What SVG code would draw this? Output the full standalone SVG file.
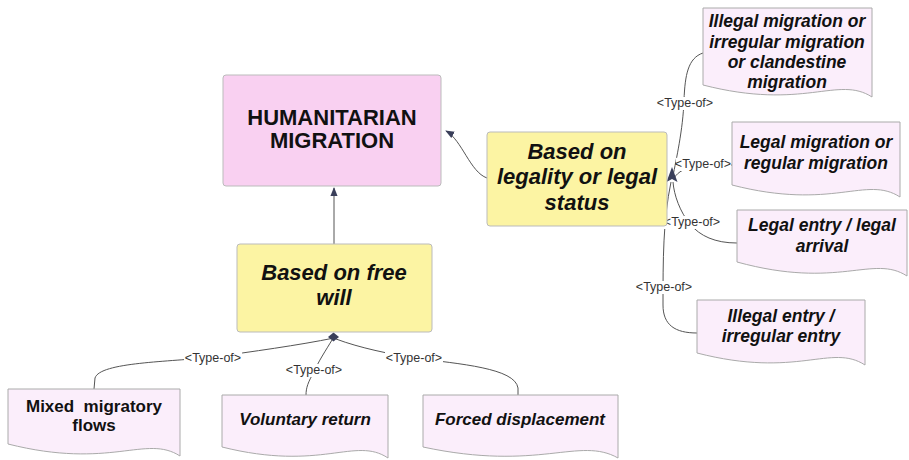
<svg xmlns="http://www.w3.org/2000/svg" width="909" height="460" viewBox="0 0 909 460">
<defs>
<style>
.t{font-family:"Liberation Sans",Arial,sans-serif;font-weight:bold;fill:#111;text-anchor:middle}
.big{font-size:22px}
.it{font-style:italic}
.md{font-size:17px}
.rs{font-size:17.5px}
.lbl{font-family:"Liberation Sans",Arial,sans-serif;font-size:12.5px;fill:#333;text-anchor:middle}
.lb{fill:#fff}
.c{fill:none;stroke:#555;stroke-width:1}
.doc{fill:#fbeefb;stroke:#aaa;stroke-width:1}
.yel{fill:#fcf4a3;stroke:#bbb;stroke-width:1}
.pink{fill:#f9d0f1;stroke:#bbb;stroke-width:1}
.head{fill:#3a3f5a}
</style>
<marker id="arr" viewBox="0 0 10 10" refX="9" refY="5" markerWidth="9" markerHeight="9" orient="auto" markerUnits="userSpaceOnUse">
<path d="M0,1 L10,5 L0,9 Z" fill="#3a3f5a"/>
</marker>
</defs>
<rect width="909" height="460" fill="#fff"/>

<g id="connectors">
<path class="c" d="M334,244 L334,188" marker-end="url(#arr)"/>
<path class="c" d="M487,178 C470,172 462,140 446,131" marker-end="url(#arr)"/>
<path class="c" d="M703,53 C688,58 685,75 684,100 C683,130 676,160 673,176"/>
<path class="c" d="M732,165 L700,166 C685,167 678,172 674,178"/>
<path class="c" d="M737,243 C715,243 700,236 690,224 C680,212 674,195 673,182"/>
<path class="c" d="M697,333 C675,333 663,325 663,305 C663,260 663,220 671,182"/>
<polygon class="head" points="672,167 677.5,182 672,179 666.5,182"/>
<path class="c" d="M334,338 C300,345 250,352 213,357 C170,362 100,362 95,378 L94,389"/>
<path class="c" d="M332,340 C326,350 318,362 314,372 C308,382 306,388 306,395"/>
<path class="c" d="M336,339 C360,348 390,354 414,358 C460,364 515,368 518,388 L518,395"/>
<polygon class="head" points="333.5,332.5 339,337 333.5,341.5 328,337"/>
<rect class="lb" x="184" y="352" width="58" height="13"/>
<text class="lbl" x="213" y="362">&lt;Type-of&gt;</text>
<rect class="lb" x="285" y="364" width="58" height="13"/>
<text class="lbl" x="314" y="374">&lt;Type-of&gt;</text>
<rect class="lb" x="385" y="352" width="58" height="13"/>
<text class="lbl" x="414" y="362">&lt;Type-of&gt;</text>
<rect class="lb" x="656" y="97" width="58" height="13"/>
<text class="lbl" x="685" y="107">&lt;Type-of&gt;</text>
<rect class="lb" x="676" y="158" width="55" height="13"/>
<text class="lbl" x="703" y="168">&lt;Type-of&gt;</text>
<rect class="lb" x="663" y="216" width="58" height="13"/>
<text class="lbl" x="692" y="226">&lt;Type-of&gt;</text>
<rect class="lb" x="635" y="281" width="58" height="13"/>
<text class="lbl" x="664" y="291">&lt;Type-of&gt;</text>
</g>

<g id="humanitarian">
<rect class="pink" x="223" y="75" width="218" height="111" rx="3"/>
<text class="t big" x="332" y="125">HUMANITARIAN</text>
<text class="t big" x="332" y="148">MIGRATION</text>
</g>

<g id="legality">
<rect class="yel" x="487" y="132" width="180" height="94" rx="3"/>
<text class="t big it" x="577" y="159">Based on</text>
<text class="t big it" x="577" y="184">legality or legal</text>
<text class="t big it" x="577" y="210">status</text>
</g>

<g id="freewill">
<rect class="yel" x="237" y="244" width="195" height="88" rx="3"/>
<text class="t big it" x="334" y="280">Based on free</text>
<text class="t big it" x="334" y="305">will</text>
</g>

<g id="illegal-migration">
<path class="doc" d="M703,8 H872 V97 C838,75 804,111 703,85 Z"/>
<text class="t rs it" x="787" y="27">Illegal migration or</text>
<text class="t rs it" x="787" y="48">irregular migration</text>
<text class="t rs it" x="787" y="68">or clandestine</text>
<text class="t rs it" x="787" y="88">migration</text>
</g>

<g id="legal-migration">
<path class="doc" d="M732,122 H900 V197 C866,175 833,211 732,185 Z"/>
<text class="t rs it" x="816" y="148">Legal migration or</text>
<text class="t rs it" x="816" y="169">regular migration</text>
</g>

<g id="legal-entry">
<path class="doc" d="M737,210 H907 V276 C873,254 839,290 737,262 Z"/>
<text class="t rs it" x="822" y="231">Legal entry / legal</text>
<text class="t rs it" x="822" y="252">arrival</text>
</g>

<g id="illegal-entry">
<path class="doc" d="M697,300 H865 V365 C831,343 798,379 697,353 Z"/>
<text class="t rs it" x="781" y="322">Illegal entry /</text>
<text class="t rs it" x="781" y="342">irregular entry</text>
</g>

<g id="mixed">
<path class="doc" d="M8,389 H180 V456 C146,434 111,470 8,444 Z"/>
<text class="t md" x="94" y="412" style="white-space:pre">Mixed  migratory</text>
<text class="t md" x="94" y="431">flows</text>
</g>

<g id="voluntary">
<path class="doc" d="M222,395 H388 V458 C355,436 322,472 222,447 Z"/>
<text class="t md it" x="305" y="425">Voluntary return</text>
</g>

<g id="forced">
<path class="doc" d="M423,395 H618 V458 C579,436 540,472 423,447 Z"/>
<text class="t md it" x="520" y="425">Forced displacement</text>
</g>
</svg>
